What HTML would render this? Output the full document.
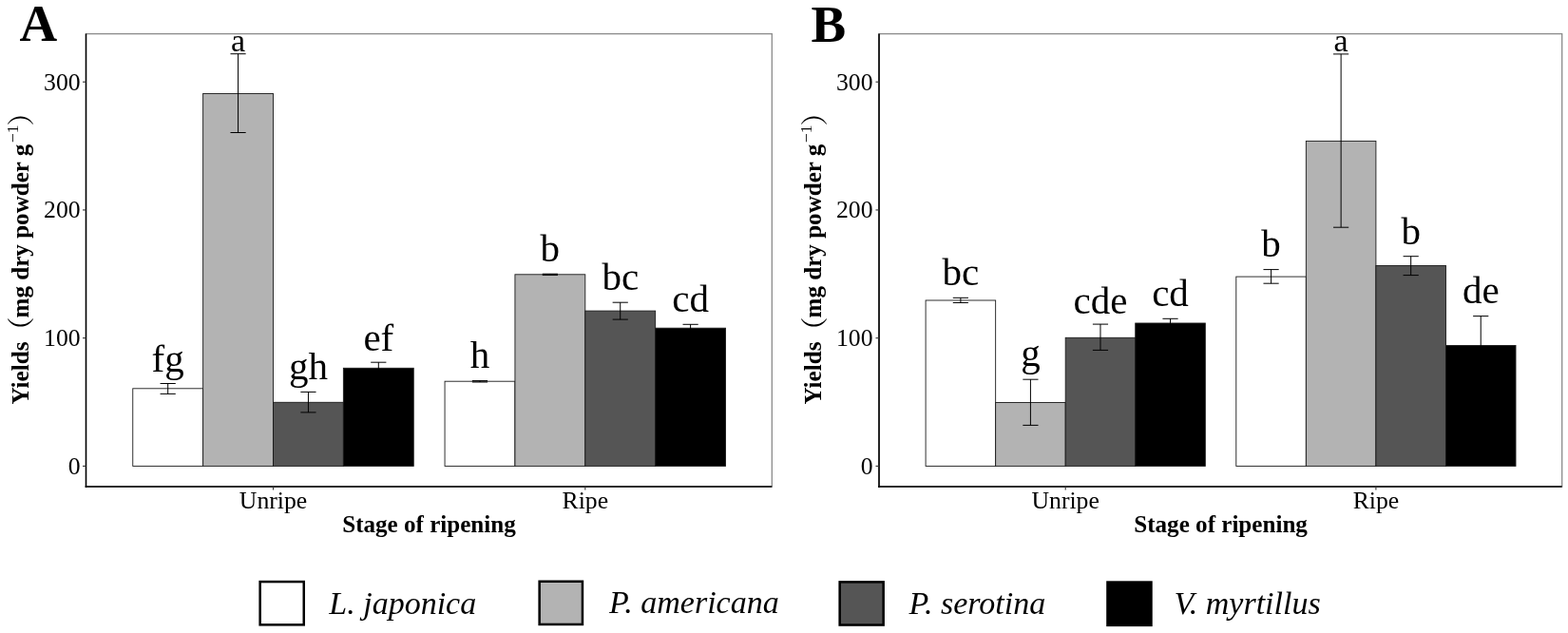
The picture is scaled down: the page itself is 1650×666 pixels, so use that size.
<!DOCTYPE html><html><head><meta charset="utf-8"><title>Yields chart</title><style>
html,body{margin:0;padding:0;background:#fff;}body{width:1650px;height:666px;overflow:hidden;}
svg{display:block;}text{font-family:"Liberation Serif","Noto Serif CJK SC",serif;fill:#000;}
.tick{font-size:25.70px;}.lbl{font-size:41.00px;text-anchor:middle;}.ttl{font-size:25.10px;font-weight:bold;}
.leg{font-size:34.00px;font-style:italic;}.tag{font-size:55.00px;font-weight:bold;}
.par{font-family:"Noto Serif CJK SC",serif;font-size:28.80px;font-weight:500;}.sup{font-size:17.50px;}
</style></head><body>
<svg width="1650" height="666" viewBox="0 0 1650 666">
<rect x="0" y="0" width="1650" height="666" fill="#fff"/>
<rect x="90.50" y="35.60" width="721.80" height="476.40" fill="none" stroke="#8a8a8a" stroke-width="1.3"/>
<rect x="139.76" y="408.80" width="73.87" height="81.60" fill="#ffffff" stroke="#1a1a1a" stroke-width="0.90"/>
<rect x="213.63" y="98.50" width="73.87" height="391.90" fill="#b3b3b3" stroke="#1a1a1a" stroke-width="0.90"/>
<rect x="287.50" y="423.30" width="73.87" height="67.10" fill="#555555" stroke="#1a1a1a" stroke-width="0.90"/>
<rect x="361.37" y="387.30" width="73.87" height="103.10" fill="#000000" stroke="#1a1a1a" stroke-width="0.90"/>
<rect x="468.06" y="401.20" width="73.87" height="89.20" fill="#ffffff" stroke="#1a1a1a" stroke-width="0.90"/>
<rect x="541.93" y="288.80" width="73.87" height="201.60" fill="#b3b3b3" stroke="#1a1a1a" stroke-width="0.90"/>
<rect x="615.80" y="327.10" width="73.87" height="163.30" fill="#555555" stroke="#1a1a1a" stroke-width="0.90"/>
<rect x="689.67" y="345.20" width="73.87" height="145.20" fill="#000000" stroke="#1a1a1a" stroke-width="0.90"/>
<path d="M168.59 403.50H184.79M176.69 403.50V414.40M168.59 414.40H184.79" stroke="#000" stroke-width="1.0" fill="none"/>
<text class="lbl" x="176.69" y="390.50" style="font-size:41.00px">fg</text>
<path d="M242.47 56.70H258.67M250.56 56.70V139.50M242.47 139.50H258.67" stroke="#000" stroke-width="1.0" fill="none"/>
<text class="lbl" x="250.56" y="53.50" style="font-size:34.00px">a</text>
<path d="M316.33 412.40H332.54M324.44 412.40V433.90M316.33 433.90H332.54" stroke="#000" stroke-width="1.0" fill="none"/>
<text class="lbl" x="324.44" y="399.20" style="font-size:41.00px">gh</text>
<path d="M390.20 381.20H406.41M398.31 381.20V393.00M390.20 393.00H406.41" stroke="#000" stroke-width="1.0" fill="none"/>
<text class="lbl" x="398.31" y="368.50" style="font-size:41.00px">ef</text>
<path d="M496.89 400.60H513.09M504.99 400.60V402.00M496.89 402.00H513.09" stroke="#000" stroke-width="1.0" fill="none"/>
<text class="lbl" x="504.99" y="387.00" style="font-size:41.00px">h</text>
<path d="M570.76 288.20H586.97M578.87 288.20V289.40M570.76 289.40H586.97" stroke="#000" stroke-width="1.0" fill="none"/>
<text class="lbl" x="578.87" y="275.30" style="font-size:41.00px">b</text>
<path d="M644.63 318.20H660.83M652.73 318.20V336.10M644.63 336.10H660.83" stroke="#000" stroke-width="1.0" fill="none"/>
<text class="lbl" x="652.73" y="304.50" style="font-size:41.00px">bc</text>
<path d="M718.50 341.30H734.71M726.61 341.30V349.00M718.50 349.00H734.71" stroke="#000" stroke-width="1.0" fill="none"/>
<text class="lbl" x="726.61" y="327.60" style="font-size:41.00px">cd</text>
<path d="M90.50 35.60V513.00" stroke="#000" stroke-width="1.50" fill="none"/>
<path d="M89.70 512.00H812.30" stroke="#000" stroke-width="1.45" fill="none"/>
<path d="M87.00 490.40H90.50" stroke="#333" stroke-width="1.1"/>
<text class="tick" x="84.60" y="498.90" text-anchor="end">0</text>
<path d="M87.00 355.67H90.50" stroke="#333" stroke-width="1.1"/>
<text class="tick" x="84.60" y="364.17" text-anchor="end">100</text>
<path d="M87.00 220.93H90.50" stroke="#333" stroke-width="1.1"/>
<text class="tick" x="84.60" y="229.43" text-anchor="end">200</text>
<path d="M87.00 86.20H90.50" stroke="#333" stroke-width="1.1"/>
<text class="tick" x="84.60" y="94.70" text-anchor="end">300</text>
<path d="M287.50 512.00V515.50" stroke="#333" stroke-width="1.1"/>
<text class="tick" x="287.50" y="535.20" text-anchor="middle">Unripe</text>
<path d="M615.80 512.00V515.50" stroke="#333" stroke-width="1.1"/>
<text class="tick" x="615.80" y="535.20" text-anchor="middle">Ripe</text>
<text class="ttl" x="451.50" y="559.70" text-anchor="middle">Stage of ripening</text>
<g transform="translate(29.60 0) rotate(-90)">
<text class="ttl" x="-425.60" y="0">Yields</text>
<text class="par" x="-362.20" y="3.30">（</text>
<text class="ttl" x="-334.50" y="0">mg dry powder g</text>
<text class="sup" x="-150.10" y="-10.80">−1</text>
<text class="par" x="-132.50" y="3.30">）</text>
</g>
<text class="tag" x="20.50" y="43.20">A</text>
<rect x="925.00" y="35.60" width="718.70" height="476.40" fill="none" stroke="#8a8a8a" stroke-width="1.3"/>
<rect x="974.10" y="316.00" width="73.55" height="174.40" fill="#ffffff" stroke="#1a1a1a" stroke-width="0.90"/>
<rect x="1047.65" y="423.50" width="73.55" height="66.90" fill="#b3b3b3" stroke="#1a1a1a" stroke-width="0.90"/>
<rect x="1121.20" y="355.30" width="73.55" height="135.10" fill="#555555" stroke="#1a1a1a" stroke-width="0.90"/>
<rect x="1194.75" y="340.00" width="73.55" height="150.40" fill="#000000" stroke="#1a1a1a" stroke-width="0.90"/>
<rect x="1300.80" y="291.10" width="73.55" height="199.30" fill="#ffffff" stroke="#1a1a1a" stroke-width="0.90"/>
<rect x="1374.35" y="148.40" width="73.55" height="342.00" fill="#b3b3b3" stroke="#1a1a1a" stroke-width="0.90"/>
<rect x="1447.90" y="279.50" width="73.55" height="210.90" fill="#555555" stroke="#1a1a1a" stroke-width="0.90"/>
<rect x="1521.45" y="363.50" width="73.55" height="126.90" fill="#000000" stroke="#1a1a1a" stroke-width="0.90"/>
<path d="M1002.77 313.30H1018.98M1010.88 313.30V318.50M1002.77 318.50H1018.98" stroke="#000" stroke-width="1.0" fill="none"/>
<text class="lbl" x="1010.88" y="300.10" style="font-size:41.00px">bc</text>
<path d="M1076.33 399.20H1092.52M1084.42 399.20V447.40M1076.33 447.40H1092.52" stroke="#000" stroke-width="1.0" fill="none"/>
<text class="lbl" x="1084.42" y="385.20" style="font-size:41.00px">g</text>
<path d="M1149.88 341.10H1166.07M1157.97 341.10V368.40M1149.88 368.40H1166.07" stroke="#000" stroke-width="1.0" fill="none"/>
<text class="lbl" x="1157.97" y="329.70" style="font-size:41.00px">cde</text>
<path d="M1223.43 335.30H1239.62M1231.53 335.30V344.50M1223.43 344.50H1239.62" stroke="#000" stroke-width="1.0" fill="none"/>
<text class="lbl" x="1231.53" y="322.00" style="font-size:41.00px">cd</text>
<path d="M1329.48 283.60H1345.68M1337.58 283.60V298.20M1329.48 298.20H1345.68" stroke="#000" stroke-width="1.0" fill="none"/>
<text class="lbl" x="1337.58" y="270.10" style="font-size:41.00px">b</text>
<path d="M1403.03 56.90H1419.23M1411.13 56.90V239.20M1403.03 239.20H1419.23" stroke="#000" stroke-width="1.0" fill="none"/>
<text class="lbl" x="1411.13" y="54.30" style="font-size:34.00px">a</text>
<path d="M1476.58 269.70H1492.78M1484.68 269.70V289.60M1476.58 289.60H1492.78" stroke="#000" stroke-width="1.0" fill="none"/>
<text class="lbl" x="1484.68" y="256.50" style="font-size:41.00px">b</text>
<path d="M1550.13 332.60H1566.33M1558.23 332.60V394.00M1550.13 394.00H1566.33" stroke="#000" stroke-width="1.0" fill="none"/>
<text class="lbl" x="1558.23" y="319.40" style="font-size:41.00px">de</text>
<path d="M925.00 35.60V513.00" stroke="#000" stroke-width="1.60" fill="none"/>
<path d="M924.20 512.00H1643.70" stroke="#000" stroke-width="1.60" fill="none"/>
<path d="M921.50 490.40H925.00" stroke="#333" stroke-width="1.1"/>
<text class="tick" x="918.50" y="498.90" text-anchor="end">0</text>
<path d="M921.50 355.67H925.00" stroke="#333" stroke-width="1.1"/>
<text class="tick" x="918.50" y="364.17" text-anchor="end">100</text>
<path d="M921.50 220.93H925.00" stroke="#333" stroke-width="1.1"/>
<text class="tick" x="918.50" y="229.43" text-anchor="end">200</text>
<path d="M921.50 86.20H925.00" stroke="#333" stroke-width="1.1"/>
<text class="tick" x="918.50" y="94.70" text-anchor="end">300</text>
<path d="M1121.20 512.00V515.50" stroke="#333" stroke-width="1.1"/>
<text class="tick" x="1121.20" y="535.20" text-anchor="middle">Unripe</text>
<path d="M1447.90 512.00V515.50" stroke="#333" stroke-width="1.1"/>
<text class="tick" x="1447.90" y="535.20" text-anchor="middle">Ripe</text>
<text class="ttl" x="1284.60" y="559.70" text-anchor="middle">Stage of ripening</text>
<g transform="translate(864.40 0) rotate(-90)">
<text class="ttl" x="-425.60" y="0">Yields</text>
<text class="par" x="-362.20" y="3.30">（</text>
<text class="ttl" x="-334.50" y="0">mg dry powder g</text>
<text class="sup" x="-150.10" y="-10.80">−1</text>
<text class="par" x="-132.50" y="3.30">）</text>
</g>
<text class="tag" x="853.50" y="43.60">B</text>
<rect x="273.65" y="612.05" width="46.10" height="45.30" fill="#ffffff" stroke="#000" stroke-width="2.50"/>
<text class="leg" x="346.30" y="646.10">L. japonica</text>
<rect x="567.65" y="611.75" width="45.30" height="45.20" fill="#b3b3b3" stroke="#000" stroke-width="2.50"/>
<text class="leg" x="640.90" y="645.00">P. americana</text>
<rect x="883.65" y="612.35" width="46.00" height="45.20" fill="#555555" stroke="#000" stroke-width="2.50"/>
<text class="leg" x="956.60" y="645.60">P. serotina</text>
<rect x="1165.45" y="612.55" width="46.00" height="45.30" fill="#000000" stroke="#000" stroke-width="2.50"/>
<text class="leg" x="1235.40" y="645.60">V. myrtillus</text>
</svg></body></html>
